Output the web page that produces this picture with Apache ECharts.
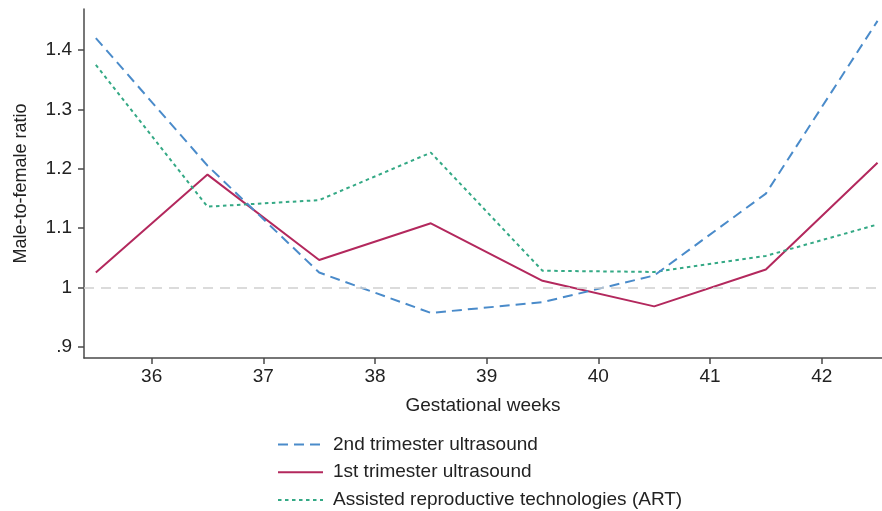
<!DOCTYPE html>
<html>
<head>
<meta charset="utf-8">
<script src="https://cdn.jsdelivr.net/npm/echarts@6/dist/echarts.min.js"></script>
<style>
  html, body { margin: 0; padding: 0; background: #fff; }
  #main { width: 882px; height: 511px; }
</style>
</head>
<body>
<div id="main"></div>
<script>
// gestational week midpoints
var weeks = [35.5, 36.5, 37.5, 38.5, 39.5, 40.5, 41.5, 42.5];
var secondTri = [1.420, 1.205, 1.025, 0.957, 0.975, 1.020, 1.158, 1.449];
var firstTri  = [1.025, 1.190, 1.046, 1.108, 1.011, 0.968, 1.030, 1.210];
var art       = [1.375, 1.136, 1.147, 1.227, 1.028, 1.026, 1.053, 1.106];
var xTicks = [36, 37, 38, 39, 40, 41, 42];
var yTicks = [0.9, 1, 1.1, 1.2, 1.3, 1.4];
var names = ['2nd trimester ultrasound', '1st trimester ultrasound', 'Assisted reproductive technologies (ART)'];

function pairs(vals) {
  var out = [];
  for (var i = 0; i < weeks.length; i++) out.push([weeks[i], vals[i]]);
  return out;
}
function onTick(list, v) {
  for (var i = 0; i < list.length; i++) if (Math.abs(list[i] - v) < 1e-6) return true;
  return false;
}

var font = 'Liberation Sans, Arial, sans-serif';
var axisCol = '#4a4a4a';

var option = {
  animation: false,
  backgroundColor: '#fff',
  grid: { left: 84, right: 0, top: 9, bottom: 153 },
  legend: {
    orient: 'vertical',
    left: 277,
    top: 435,
    padding: 0,
    itemWidth: 45,
    itemHeight: 18,
    itemGap: 8.7,
    itemStyle: { opacity: 0 },
    data: names,
    textStyle: { fontFamily: font, fontSize: 19, color: '#222', padding: [0, 0, 0, 5] }
  },
  xAxis: {
    type: 'value',
    min: 35.394,
    max: 42.54,
    name: 'Gestational weeks',
    nameLocation: 'middle',
    nameGap: 38,
    nameTextStyle: { fontFamily: font, fontSize: 19, color: '#222' },
    axisLine: { lineStyle: { color: axisCol, width: 1.5 } },
    axisTick: { customValues: xTicks, length: 6, lineStyle: { color: axisCol, width: 1.5 } },
    axisLabel: {
      customValues: xTicks, fontFamily: font, fontSize: 19, color: '#222', margin: 9,
      formatter: function (v) { return onTick(xTicks, v) ? String(Math.round(v)) : ''; }
    },
    splitLine: { show: false }
  },
  yAxis: {
    type: 'value',
    min: 0.881,
    max: 1.469,
    name: 'Male-to-female ratio',
    nameLocation: 'middle',
    nameGap: 54,
    nameTextStyle: { fontFamily: font, fontSize: 18, color: '#222' },
    axisLine: { show: true, lineStyle: { color: axisCol, width: 1.5 } },
    axisTick: { show: true, customValues: yTicks, length: 6, lineStyle: { color: axisCol, width: 1.5 } },
    axisLabel: {
      customValues: yTicks, fontFamily: font, fontSize: 19, color: '#222', margin: 12,
      formatter: function (v) {
        return onTick(yTicks, v) ? String(Math.round(v * 10) / 10).replace(/^0/, '') : '';
      }
    },
    splitLine: { show: false }
  },
  series: [
    {
      name: names[0], type: 'line', symbol: 'none', data: pairs(secondTri),
      lineStyle: { color: '#4a8bca', width: 2, type: [10, 6] },
      itemStyle: { color: '#4a8bca' },
      z: 3,
      markLine: {
        silent: true, symbol: 'none', label: { show: false },
        lineStyle: { color: '#cfcfcf', width: 1.5, type: [10, 7] },
        data: [{ yAxis: 1 }]
      }
    },
    {
      name: names[1], type: 'line', symbol: 'none', data: pairs(firstTri),
      lineStyle: { color: '#b3285d', width: 2, type: 'solid' },
      itemStyle: { color: '#b3285d' },
      z: 2
    },
    {
      name: names[2], type: 'line', symbol: 'none', data: pairs(art),
      lineStyle: { color: '#34a985', width: 2, type: [3.5, 3.5] },
      itemStyle: { color: '#34a985' },
      z: 2
    }
  ]
};

var chart = echarts.init(document.getElementById('main'));
chart.setOption(option);
</script>
</body>
</html>
